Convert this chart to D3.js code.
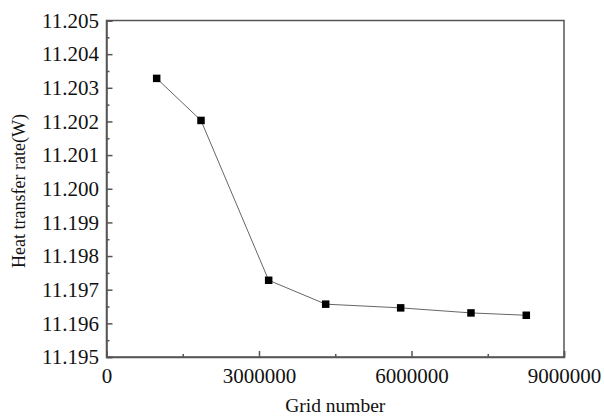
<!DOCTYPE html>
<html>
<head>
<meta charset="utf-8">
<script src="https://cdn.jsdelivr.net/npm/d3@7"></script>
<style>
  body { margin: 0; background: #fff; }
  text { font-family: "Liberation Serif", "Times New Roman", serif; }
</style>
</head>
<body>
<script>
var w = 604;
var h = 420;
var margin = {top: 20.5, right: 40, bottom: 63, left: 106.5};

// grid independence data
var gridNum = [987000, 1859000, 3190000, 4312000, 5787000, 7170000, 8258000];
var heatRate = [11.20328, 11.20203, 11.19728, 11.19657, 11.19646, 11.19631, 11.19624];

var xTicks = [0, 3000000, 6000000, 9000000];
var xMinor = [1500000, 4500000, 7500000];
var yTicks = [11.195, 11.196, 11.197, 11.198, 11.199, 11.200, 11.201, 11.202, 11.203, 11.204, 11.205];
var yMinor = [11.1955, 11.1965, 11.1975, 11.1985, 11.1995, 11.2005, 11.2015, 11.2025, 11.2035, 11.2045];

var svg = d3.select("body").append("svg")
    .attr("width", w)
    .attr("height", h);

var x = d3.scaleLinear()
    .domain([0, 9000000])
    .range([margin.left, w - margin.right]);
var y = d3.scaleLinear()
    .domain([11.195, 11.205])
    .range([h - margin.bottom, margin.top]);

var axisCol = "#555";
var tickFs = "21px";

// frame
svg.append("rect")
    .attr("x", x(0))
    .attr("y", y(11.205))
    .attr("width", x(9000000) - x(0))
    .attr("height", y(11.195) - y(11.205))
    .attr("fill", "none")
    .attr("stroke", axisCol)
    .attr("stroke-width", 1.5);

// x axis, ticks pointing in
var gx = svg.append("g")
    .attr("transform", "translate(0," + y(11.195) + ")")
    .call(d3.axisBottom(x).tickValues(xTicks).tickSize(-6).tickPadding(11.5).tickFormat(d3.format("d")));
svg.append("g")
    .attr("transform", "translate(0," + y(11.195) + ")")
    .call(d3.axisBottom(x).tickValues(xMinor).tickSize(-3).tickFormat(""))
    .call(g => g.select(".domain").remove());

var gy = svg.append("g")
    .attr("transform", "translate(" + x(0) + ",0)")
    .call(d3.axisLeft(y).tickValues(yTicks).tickSize(-6).tickPadding(7.5).tickFormat(d3.format(".3f")));
svg.append("g")
    .attr("transform", "translate(" + x(0) + ",0)")
    .call(d3.axisLeft(y).tickValues(yMinor).tickSize(-3).tickFormat(""))
    .call(g => g.select(".domain").remove());

svg.selectAll("g").attr("font-family", "Liberation Serif").attr("font-size", 21);
svg.selectAll(".domain").attr("stroke", axisCol).attr("stroke-width", 1.5);
svg.selectAll(".tick line").attr("stroke", axisCol).attr("stroke-width", 1.5);
svg.selectAll(".tick text")
    .attr("fill", "#111")
    .style("font-family", "'Liberation Serif', serif")
    .style("font-size", tickFs);
gx.selectAll(".tick text").attr("dy", "0.71em");

// line
var line = d3.line()
    .x((d, i) => x(gridNum[i]))
    .y((d, i) => y(heatRate[i]));
svg.append("path")
    .datum(heatRate)
    .attr("d", line)
    .attr("fill", "none")
    .attr("stroke", "#666")
    .attr("stroke-width", 1);

var sz = 7.5;
svg.selectAll("rect.pt")
    .data(heatRate)
    .enter().append("rect")
    .attr("class", "pt")
    .attr("x", (d, i) => x(gridNum[i]) - sz / 2)
    .attr("y", d => y(d) - sz / 2)
    .attr("width", sz)
    .attr("height", sz)
    .attr("fill", "#000");

// labels
svg.append("text")
    .attr("x", (x(0) + x(9000000)) / 2)
    .attr("y", 412)
    .attr("text-anchor", "middle")
    .style("font-size", "19.5px")
    .attr("fill", "#111")
    .text("Grid number");

svg.append("text")
    .attr("transform", "translate(24.5,191)rotate(-90)")
    .attr("text-anchor", "middle")
    .style("font-size", "18px")
    .attr("fill", "#111")
    .text("Heat transfer rate(W)");
</script>
</body>
</html>
